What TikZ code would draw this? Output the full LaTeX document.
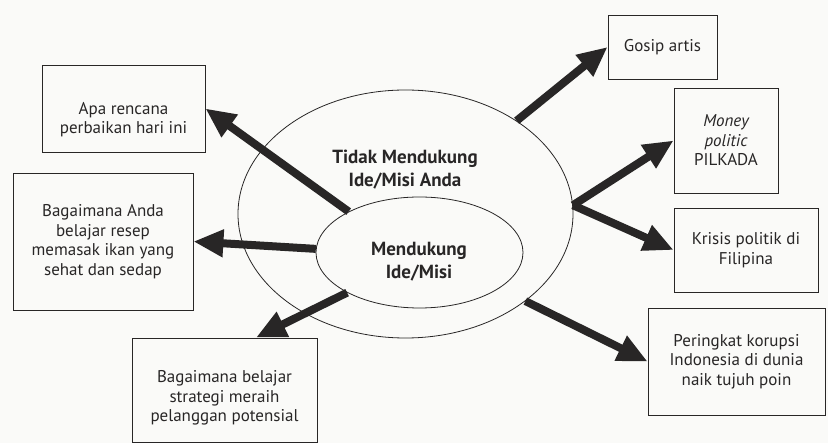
\documentclass[tikz,border=0pt]{standalone}
\usepackage{fontspec}
\setmainfont{PT Sans}
\usepackage{tikz}
\usetikzlibrary{shapes,arrows.meta}
\usetikzlibrary{positioning}
\definecolor{myink}{RGB}{40,38,38}
\definecolor{mypaper}{RGB}{250,250,248}
\newcommand\mybox[5][]{%
  \node[mybox,#1,minimum width=#3,minimum height=#4] (#2) {#5};
}

\begin{document}
\begin{tikzpicture}[x=1pt, y=-1pt,
>={Triangle[length=30pt,width=26pt]},
mybox/.style={
  rectangle,
  draw=myink,
  line width=0.8pt,
  align=center,
  inner sep=2pt,
  text=myink,
  font=\fontsize{17}{19.5}\selectfont},
myellipse/.style={
  ellipse,
  draw=myink,
  line width=0.8pt,
  inner sep=0pt},
mylabel/.style={
  align=center,
  text=myink,
  font=\fontsize{19}{23}\selectfont\bfseries},
myarrow/.style={->, line width=8pt, draw=myink}
]
\fill[mypaper] (0,0) rectangle (828,443);
\useasboundingbox (0,0) rectangle (828,443);
% ellipses
\node[myellipse, minimum width=335pt, minimum height=248pt] (tidak) at (405.5,214) {};
\node[myellipse, minimum width=207pt, minimum height=111pt] (dukung) at (419.5,252.5) {};
\node[mylabel] (tidaklabel) at (405,170) {Tidak Mendukung\\Ide/Misi Anda};
\node[mylabel] (dukunglabel) at (419,262) {Mendukung\\Ide/Misi};
% boxes
\mybox[at={(123.5,108.5)}]{apa}{163pt}{87pt}{\rule{0pt}{34pt}Apa rencana\\perbaikan hari ini}
\mybox[at={(103,241.5)}]{anda}{180pt}{137pt}{Bagaimana Anda\\belajar resep\\memasak ikan yang\\sehat dan sedap}
\mybox[at={(224.5,390)}]{strat}{185pt}{104pt}{\rule{0pt}{28pt}Bagaimana belajar\\strategi meraih\\pelanggan potensial}
\mybox[at={(662.5,47)}]{gosip}{109pt}{64pt}{Gosip artis}
\mybox[at={(726,140.5)}]{money}{104pt}{105pt}{\itshape Money\\\itshape politic\\PILKADA}
\mybox[at={(746,250)}]{krisis}{144pt}{84pt}{Krisis politik di\\Filipina}
\mybox[at={(736.5,361.5)}]{peringkat}{177pt}{107pt}{Peringkat korupsi\\Indonesia di dunia\\naik tujuh poin}
% arrows
\draw[myarrow] (dukung.150) -- (apa.east);
\draw[myarrow] (dukung.178) -- (anda.east);
\draw[myarrow] (dukung.209) -- (strat.59);
\draw[myarrow] (tidak.40) -- (gosip.west);
\draw[myarrow] (tidak.3) -- (money.west);
\draw[myarrow] (tidak.3) -- (krisis.west);
\draw[myarrow] (tidak.-36) -- (peringkat.west);
\end{tikzpicture}
\end{document}
